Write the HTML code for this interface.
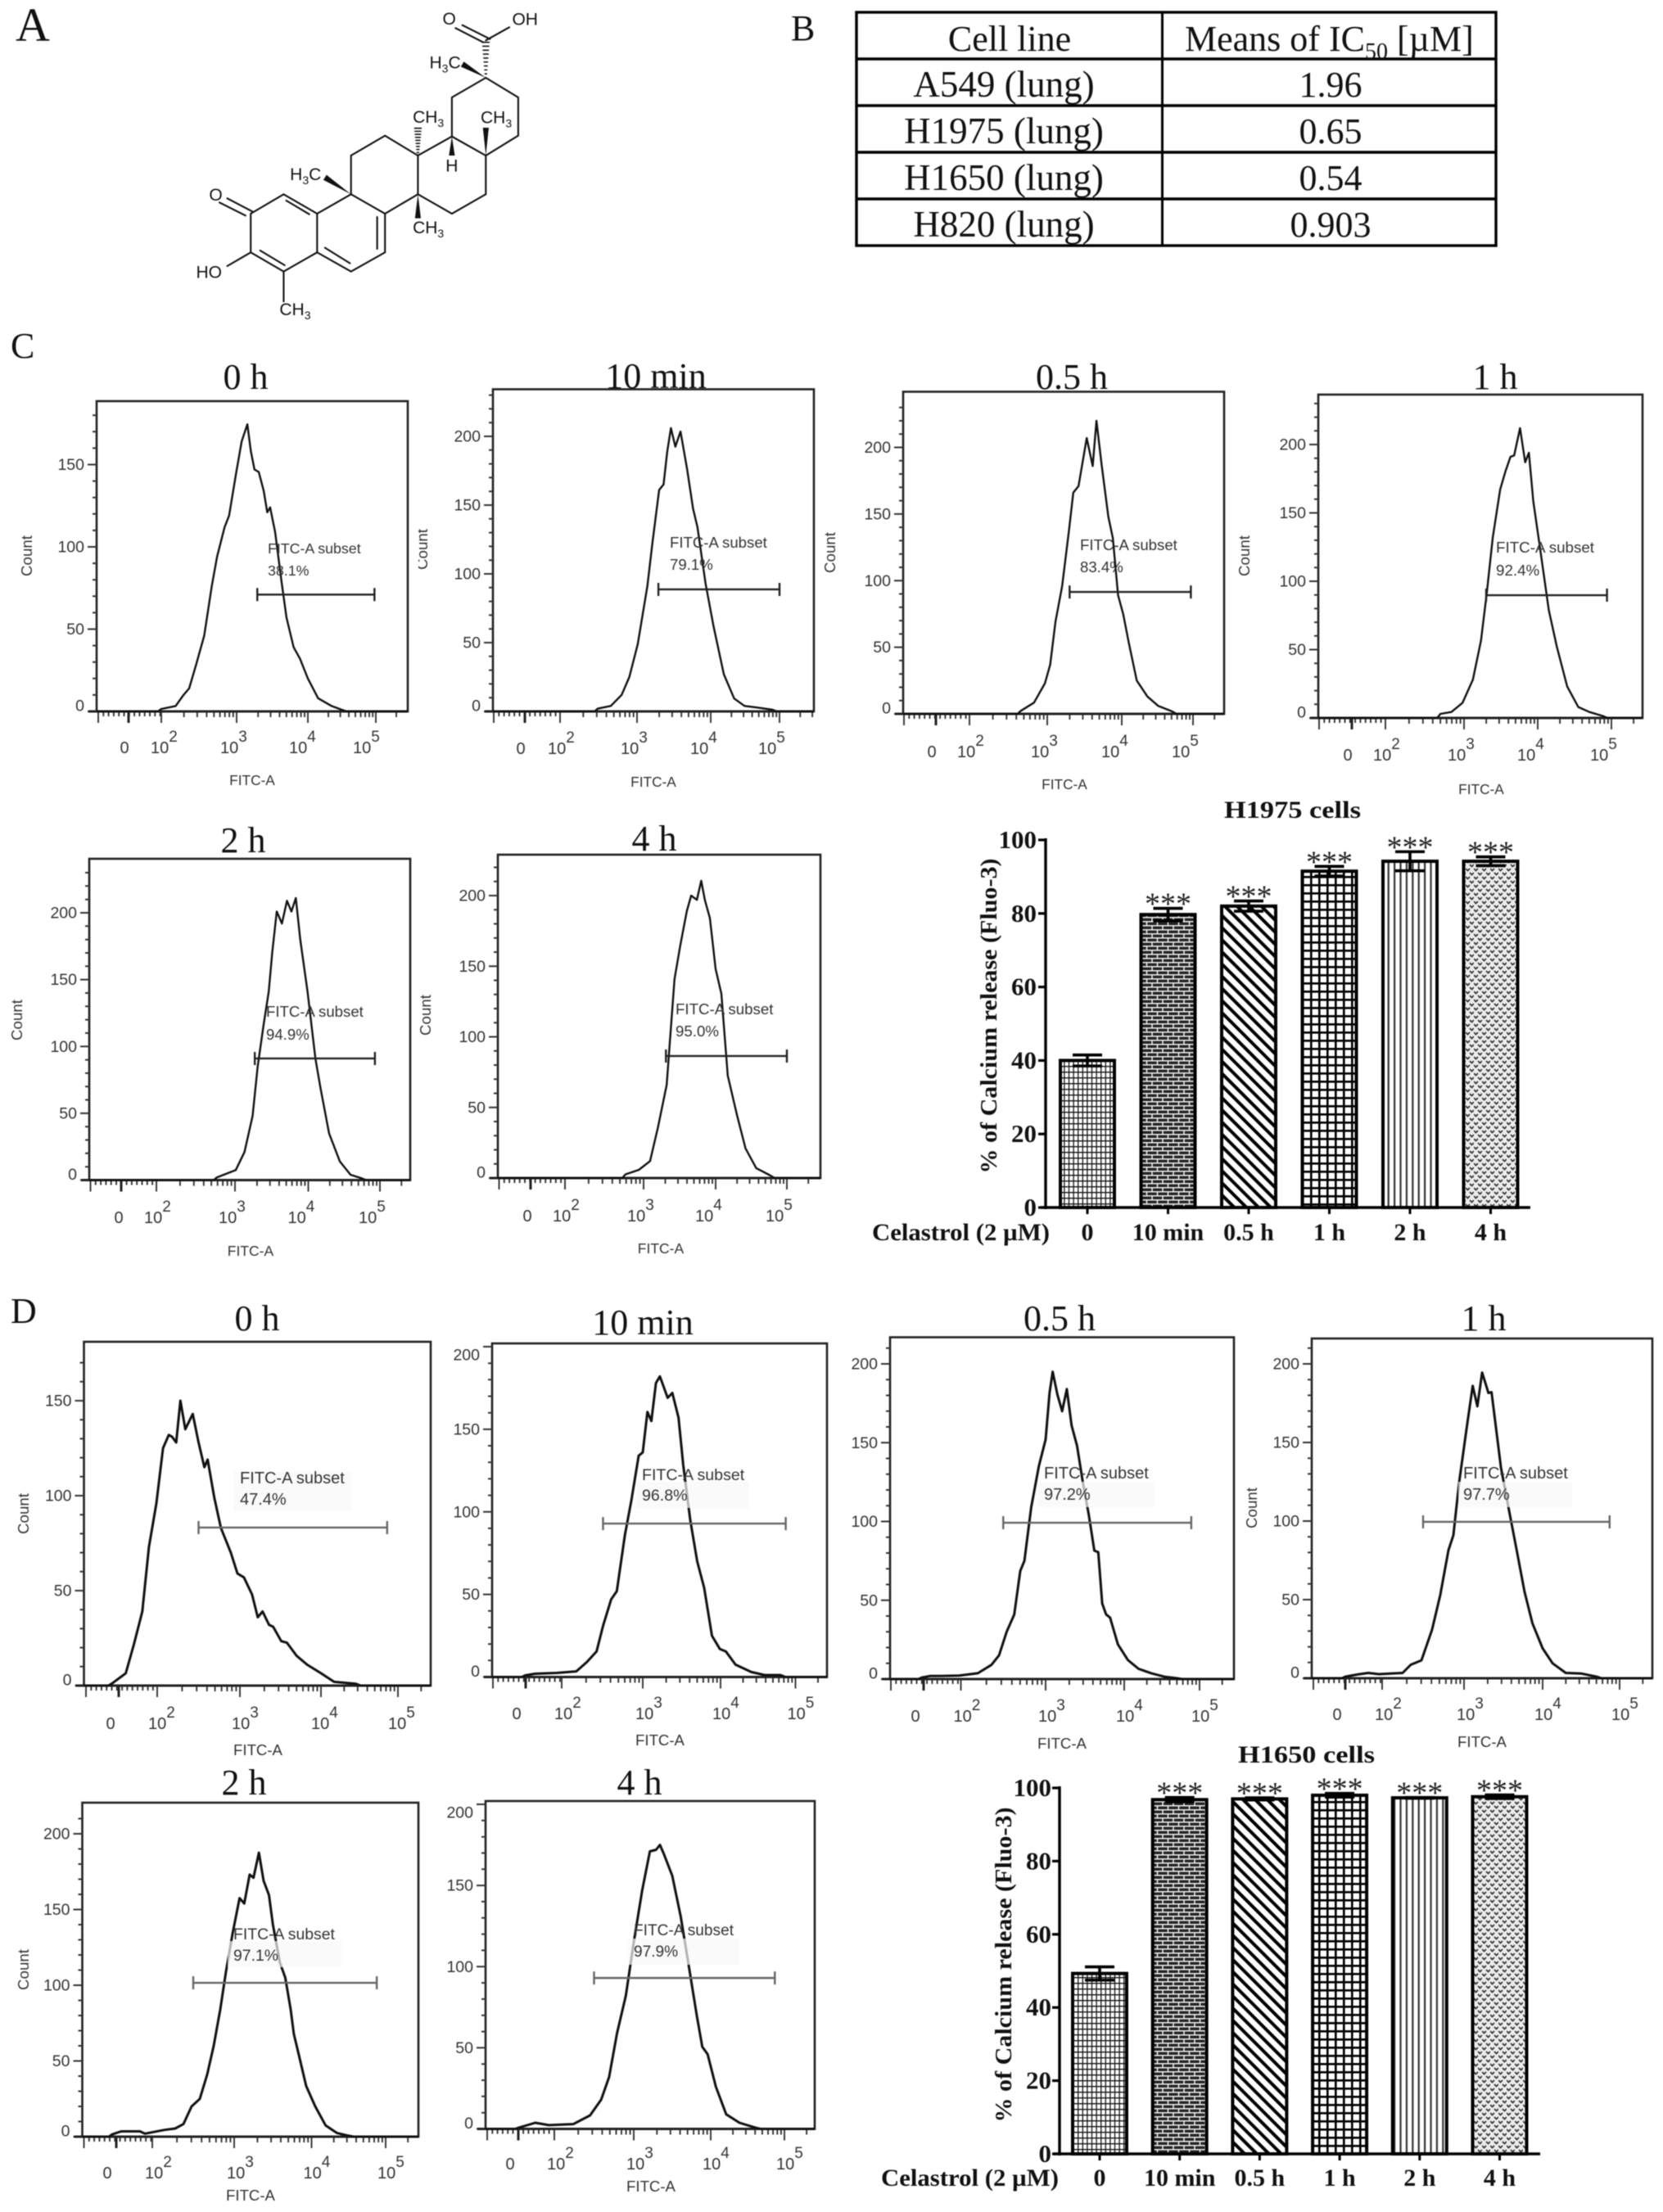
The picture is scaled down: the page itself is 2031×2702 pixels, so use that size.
<!DOCTYPE html>
<html lang="en">
<head>
<meta charset="utf-8">
<title>Celastrol calcium release figure</title>
<style>
html,body{margin:0;padding:0;background:#fff;width:2031px;height:2702px;overflow:hidden}
svg{display:block;filter:blur(.45px)}
</style>
</head>
<body>
<svg id="fig" xmlns="http://www.w3.org/2000/svg" width="2031" height="2702" viewBox="0 0 2031 2702">
<defs>
<pattern id="pat-fine" patternUnits="userSpaceOnUse" width="5.6" height="7"><rect width="5.6" height="7" fill="#fff"/><path d="M0 .7H5.6M.7 0V7" stroke="#111" stroke-width="1.3"/></pattern>
<pattern id="pat-brick" patternUnits="userSpaceOnUse" width="13" height="10"><rect width="13" height="10" fill="#262626"/><path d="M0 .8H13M0 5.8H13M3 .8V5.8M9.5 5.8V10" stroke="#fff" stroke-width="1.4"/></pattern>
<pattern id="pat-diag" patternUnits="userSpaceOnUse" width="10.5" height="10.5" patternTransform="rotate(-45)"><rect width="10.5" height="10.5" fill="#fff"/><rect width="4" height="10.5" fill="#000"/></pattern>
<pattern id="pat-grid" patternUnits="userSpaceOnUse" width="10" height="10"><rect width="10" height="10" fill="#fff"/><path d="M0 1.3H10M1.3 0V10" stroke="#000" stroke-width="2.6"/></pattern>
<pattern id="pat-vert" patternUnits="userSpaceOnUse" width="7.4" height="10"><rect width="7.4" height="10" fill="#fff"/><rect width="2.2" height="10" fill="#333"/></pattern>
<pattern id="pat-dots" patternUnits="userSpaceOnUse" width="10" height="10"><rect width="10" height="10" fill="#ececec"/><path d="M0 1L2.5 3.5L5 1M5 6L7.5 8.5L10 6" fill="none" stroke="#333" stroke-width="1.7"/></pattern>
</defs>
</svg>
<script>
// ---------- Flow histogram data: log10 FITC position and event count ----------
const c0hLog = [2,2.19,2.29,2.37,2.46,2.57,2.67,2.74,2.84,2.9,2.99,3.07,3.15,3.2,3.25,3.31,3.38,3.43,3.47,3.54,3.63,3.7,3.8,3.89,4,4.15,4.35,4.5];
const c0hCount = [1.5,3.3,9.7,14,28,46,76,94,112,119,144,164,174.5,158,147,145.5,134,121,124,109,79,57,39,32,20,8,3.3,1];
const c10mLog = [2.49,2.66,2.8,2.9,3.01,3.14,3.21,3.3,3.36,3.41,3.46,3.52,3.59,3.68,3.76,3.82,3.93,4.04,4.19,4.34,4.49,4.68,4.89];
const c10mCount = [2,4,12,25,49,91,123,161,165,189,206,192.5,203.5,176,147.5,134,93,62,27,9.4,4,2.8,1.3];
const c05hLog = [2.66,2.83,2.97,3.04,3.11,3.2,3.29,3.35,3.42,3.53,3.61,3.66,3.73,3.82,3.88,3.95,4.02,4.1,4.21,4.36,4.51,4.7];
const c05hCount = [2.3,8.4,23,37,69,96,137,166,171,207,186,220,187,148,132,89,75,53,25,13,6,2];
const c1hLog = [2.7,2.84,2.98,3.12,3.23,3.31,3.39,3.49,3.56,3.63,3.68,3.76,3.83,3.88,3.94,4.04,4.15,4.26,4.4,4.55,4.7,4.88];
const c1hCount = [3,4.4,11,28,56.5,92,132,167,180,191,192,212,187,194,158.5,121,79,52,23,8,4.4,1.5];
const c2hLog = [2.77,3.01,3.13,3.24,3.31,3.39,3.46,3.51,3.57,3.64,3.71,3.77,3.83,3.89,3.99,4.1,4.17,4.29,4.44,4.59,4.74];
const c2hCount = [2,7.5,21,48,85,116,141,171,201,192,209,201,211,180,141,91,69,35,14,4,1.4];
const c4hLog = [2.77,2.94,3.09,3.2,3.32,3.43,3.51,3.6,3.66,3.74,3.8,3.85,3.92,4,4.08,4.17,4.3,4.42,4.57,4.76];
const c4hCount = [2.6,5.8,12,36,66,141,165,189,200,197,210.5,197,184,148,130.5,72.5,44.5,21,7,2];
const d0hLog = [1.45,1.62,1.72,1.82,1.9,1.99,2.07,2.14,2.18,2.23,2.28,2.34,2.43,2.5,2.57,2.61,2.69,2.77,2.89,2.97,3.05,3.15,3.22,3.28,3.36,3.41,3.51,3.58,3.7,3.83,4,4.17,4.45];
const d0hCount = [1,6.5,22,39,73,96,125,132,131,128,150,135,143,128,115,119,99,83,70,59,57,48,36,39,32,31,23.4,22.6,15.7,11,6.5,2,1];
const d10mLog = [1.55,1.67,1.94,2.18,2.31,2.43,2.51,2.61,2.68,2.78,2.86,2.95,3,3.06,3.11,3.17,3.22,3.32,3.38,3.46,3.52,3.61,3.7,3.79,3.89,3.99,4.07,4.2,4.41,4.59,4.8];
const d10mCount = [1,2,2.5,3.4,9,15.5,31,47,52,86,107,134,136,160.5,155,178,182,169,172,157,128.5,95,70,54,25,17,15.5,7.5,3,1.2,1.2];
const d05hLog = [1.54,1.64,1.76,1.98,2.2,2.36,2.45,2.54,2.63,2.7,2.75,2.83,2.92,3,3.05,3.09,3.15,3.21,3.27,3.33,3.4,3.47,3.55,3.62,3.67,3.72,3.77,3.82,3.92,4.05,4.19,4.36,4.53,4.7];
const d05hCount = [1,2,2,2.2,3.7,9,15,30,41,68.5,75,109,135,152,181.5,195,180.5,170,184,161,148,126,104,81.5,80.5,48,41,39,22,12,6.5,3.7,1.5,.5];
const d1hLog = [1.55,1.7,1.83,1.96,2.25,2.35,2.48,2.61,2.71,2.81,2.87,2.94,3.03,3.11,3.17,3.23,3.31,3.35,3.47,3.57,3.67,3.77,3.87,4,4.13,4.3,4.5,4.7];
const d1hCount = [1,2.4,3.4,2.6,3.4,8.6,11.4,31,53,81.5,91,124.5,158,186,173,194.5,181.5,182,134,107.5,81.5,55,35,19,9.5,3.4,3,1];
const d2hLog = [1.51,1.62,1.85,1.91,2.15,2.28,2.38,2.48,2.58,2.67,2.75,2.83,2.9,2.98,3.07,3.13,3.2,3.25,3.32,3.38,3.45,3.5,3.59,3.66,3.73,3.77,3.84,3.93,4.05,4.19,4.34,4.5];
const d2hCount = [1.5,3.5,3.5,2,4.5,5.4,8.3,20,25,41,60,84,109,134,157.5,154,173,171,187.5,169,159.5,140,115,105,84,68,53,33.5,20,7.4,2.5,.6];
const d4hLog = [1.55,1.76,1.93,2.24,2.45,2.59,2.69,2.79,2.9,3,3.11,3.21,3.29,3.34,3.39,3.5,3.61,3.71,3.82,3.89,3.96,4.07,4.21,4.39,4.61];
const d4hCount = [.7,3.8,2.3,3,8.3,18,32,59,82,115,147,171,172,175,169.5,156,131,102,69.5,50.6,46,26,9,3.8,.7];

// ---------- Histogram tick labels ----------
const flowDecades = [2,3,4,5];
const yTicksC0 = [0,50,100,150];
const yTicksFull = [0,50,100,150,200];

// ---------- Bar chart data ----------
const barCategories = ['0','10 min','0.5 h','1 h','2 h','4 h'];
const barYTicks = [0,20,40,60,80,100];
const h1975Means = [40,79.7,82,91.5,94.2,94.2];
const h1975Errors = [1.5,1.7,1.4,1.3,2.6,1.2];
const h1650Means = [49.3,96.8,97,98,97.3,97.6];
const h1650Errors = [1.8,.6,.3,.5,.1,.5];

// ---------- Table data ----------
const tableCellLines = ['A549 (lung)','H1975 (lung)','H1650 (lung)','H820 (lung)'];
const tableIc50 = ['1.96','0.65','0.54','0.903'];

const svg = document.getElementById('fig');
const SERIF = '"Liberation Serif", serif';
const SANS = '"Liberation Sans", sans-serif';

function mk(tag, attrs, parent, text) {
  const n = document.createElementNS('http://www.w3.org/2000/svg', tag);
  for (const k in attrs) n.setAttribute(k, attrs[k]);
  if (text !== undefined) n.textContent = text;
  parent.appendChild(n);
  return n;
}

// ---------- Panel letters ----------
[['A',19,50,58],['B',966,49,44],['C',13,437,44],['D',13,1616,44]].forEach(function (p) {
  const t = mk('text', {x:p[1], y:p[2], 'font-family':SERIF, 'font-size':p[3], fill:'#111'}, svg, p[0]);
  
  
});

// ---------- Molecule (structure drawing) ----------
(function () {
  const SX = .638, SY = 1 / 3;
  const g = mk('g', {stroke:'#111','stroke-width':2.1,fill:'none','stroke-linecap':'round'}, svg);
  
  
  const rings = [
    [930,285,992,357,992,497,930,570,865,500,865,357,930,285],
    [930,570,930,712,865,783,800,712,800,570,865,500],
    [800,570,737,497,672,570,672,712,737,783,800,712],
    [737,783,737,925,672,995,607,925,607,783,672,712],
    [607,783,543,712,480,783,480,925,543,995,607,925]
  ];
  rings.forEach(function (r) {
    const pts = [];
    for (let i = 0; i < r.length; i += 2) pts.push((r[i]*SX).toFixed(1) + ',' + (r[i+1]*SY).toFixed(1));
    const pl = mk('polyline', {points:pts.join(' ')}, g);
    
    
  });
  const bonds = [
    [930,148,975,100],[925,155,872,103],[938,143,885,92],
    [548,735,592,785],[722,795,722,912],[622,908,670,965],[498,918,545,972],
    [470,790,420,742],[483,775,435,727],[480,925,435,975],[543,995,543,1105]
  ];
  bonds.forEach(function (b) {
    const l = mk('line', {x1:b[0]*SX, y1:b[1]*SY, x2:b[2]*SX, y2:b[3]*SY}, g);
    
    
  });
  const wedges = [[930,285,885,235],[930,570,930,468],[865,500,865,570],[672,712,622,650],[800,712,800,800]];
  wedges.forEach(function (w) {
    const dx = w[2]-w[0], dy = w[3]-w[1];
    const len = Math.hypot(dx*SX, dy*SY);
    const nx = -(dy*SY)/len*3.6, ny = (dx*SX)/len*3.6;
    const ax = w[0]*SX, ay = w[1]*SY, bx = w[2]*SX, by = w[3]*SY;
    const p = mk('polygon', {points:[ax,ay,bx+nx,by+ny,bx-nx,by-ny].join(' '), fill:'#111', stroke:'none'}, g);
    
    
  });
  const hashes = [[930,285,930,155],[800,570,800,470]];
  hashes.forEach(function (h) {
    const n = 9;
    for (let i = 1; i <= n; i++) {
      const f = i / n;
      const x = h[0]*SX, y = (h[1] + (h[3]-h[1])*f)*SY, hw = .6 + f*3.4;
      const l = mk('line', {x1:x-hw, y1:y, x2:x+hw, y2:y, 'stroke-width':1.6}, g);
      
      
    }
  });
  const atoms = [
    ['O','',860,90],['OH','',1005,92],['H','3C',852,250],['CH','3',820,450],['CH','3',950,452],
    ['H','',865,628],['H','3C',585,660],['O','',413,735],['CH','3',820,855],['HO','',400,1018],['CH','3',565,1155]
  ];
  atoms.forEach(function (a) {
    const t = mk('text', {x:a[2]*SX, y:a[3]*SY, 'text-anchor':'middle','font-family':SANS,'font-size':21,fill:'#111',stroke:'none'}, g, a[0]);
    
    
    if (a[1]) {
      const s = a[1].charAt(0), rest = a[1].slice(1);
      const sub = mk('tspan', {'font-size':14, dy:5}, t, s);
      
      
      if (rest) {
        const r = mk('tspan', {dy:-5}, t, rest);
        
        
      }
    }
  });
})();

// ---------- Table B ----------
(function () {
  const g = mk('g', {}, svg);
  
  
  const frame = mk('rect', {x:1046, y:15, width:781, height:285, fill:'#fff', stroke:'#000', 'stroke-width':3.4}, g);
  
  
  [72,129,186,243].forEach(function (y) {
    const l = mk('line', {x1:1046, x2:1827, y1:y, y2:y, stroke:'#000', 'stroke-width':3.4}, g);
    
    
  });
  const div = mk('line', {x1:1419.5, x2:1419.5, y1:15, y2:300, stroke:'#000', 'stroke-width':3}, g);
  
  
  const h1 = mk('text', {x:1233, y:62, 'text-anchor':'middle','font-family':SERIF,'font-size':44, fill:'#111'}, g, 'Cell line');
  
  
  const h2 = mk('text', {x:1447, y:62, 'font-family':SERIF,'font-size':44, fill:'#111'}, g, 'Means of IC');
  
  
  const h2s = mk('tspan', {'font-size':28, dy:10}, h2, '50');
  
  
  const h2e = mk('tspan', {dy:-10}, h2, ' [µM]');
  
  
  const bases = [118,175,232,289];
  tableCellLines.forEach(function (name, i) {
    const t = mk('text', {x:1226, y:bases[i], 'text-anchor':'middle','font-family':SERIF,'font-size':45, fill:'#111'}, g, name);
    
    
    const v = mk('text', {x:1625, y:bases[i], 'text-anchor':'middle','font-family':SERIF,'font-size':44, fill:'#111'}, g, tableIc50[i]);
    
    
  });
})();

// ---------- Flow histogram panels ----------
const flowLayouts = [
  {id:'c-0h',title:'0 h',titleXY:[300,475],frame:[118,498,490],y0:869,perCount:2.01,xT:[197,289,376,459],start:120,zero:157,labelBase:920,zeroX:152,offs:[-13,-20,-23,-28],fitc:[308,959],count:[32,679],lbl:[327,676,703],lblSize:17.8,fitcSize:17.3,pct:'38.1%',log:c0hLog,cnt:c0hCount,gate:[3.29,4.98,71],yT:yTicksC0,lw:2.4,top:180},
  {id:'c-10min',title:'10 min',titleXY:[801,474],frame:[602,994,475.5],y0:869,perCount:1.68,xT:[684,778,868,952],start:603,zero:641,labelBase:921,zeroX:636,offs:[-15,-20,-25,-26],fitc:[798,961],count:[515,671],clipCount:511,lbl:[818,669,696],lblSize:18.6,fitcSize:17.3,pct:'79.1%',log:c10mLog,cnt:c10mCount,gate:[3.29,5,88.7],yT:yTicksFull,lw:2.4,top:230},
  {id:'c-05h',title:'0.5 h',titleXY:[1309,475],frame:[1103,1495,478.5],y0:872,perCount:1.6275,xT:[1184,1279,1370,1457],start:1104,zero:1143,labelBase:925,zeroX:1138,offs:[-15,-20,-25,-26],fitc:[1300,964],count:[1013,675],lbl:[1319,672,699],lblSize:18.6,fitcSize:17.3,pct:'83.4%',log:c05hLog,cnt:c05hCount,gate:[3.3,4.97,91.5],yT:yTicksFull,lw:2.4,top:235},
  {id:'c-1h',title:'1 h',titleXY:[1826,475],frame:[1610,2006,482],y0:877,perCount:1.67,xT:[1692,1788,1878,1968],start:1611,zero:1651,labelBase:929,zeroX:1646,offs:[-15,-20,-25,-26],fitc:[1809,970],count:[1519,679],lbl:[1827,675,703],lblSize:18.8,fitcSize:17.3,pct:'92.4%',log:c1hLog,cnt:c1hCount,gate:[3.3,4.94,89.8],yT:yTicksFull,lw:2.4,top:230},
  {id:'c-2h',title:'2 h',titleXY:[297,1041],frame:[109,501,1049],y0:1441.5,perCount:1.6325,xT:[191,287,376.5,464],start:110.5,zero:148,labelBase:1494,zeroX:145,offs:[-15,-20,-25,-26],fitc:[306,1534],count:[20,1246],lbl:[325,1242,1270],lblSize:18.6,fitcSize:17.5,pct:'94.9%',log:c2hLog,cnt:c2hCount,gate:[3.27,4.93,91],yT:yTicksFull,lw:2.4,top:230},
  {id:'c-4h',title:'4 h',titleXY:[799,1039],frame:[608,1002,1044],y0:1439,perCount:1.725,xT:[690,786,874,961],start:609.5,zero:648,labelBase:1492,zeroX:644,offs:[-15,-20,-25,-26],fitc:[807,1531],count:[519,1240],lbl:[825,1239,1266],lblSize:18.7,fitcSize:17.5,pct:'95.0%',log:c4hLog,cnt:c4hCount,gate:[3.31,5,86.4],yT:yTicksFull,lw:2.4,top:220},
  {id:'d-0h',title:'0 h',titleXY:[314,1625],frame:[102.5,526,1639],y0:2059,perCount:2.32,xT:[192,293,392,486],start:105,zero:145,labelBase:2112,zeroX:135,offs:[-11,-10,-12,-12],fitc:[315,2144],count:[28,1849],lbl:[293,1812,1838],lblSize:20,fitcSize:18.6,box:[285,1798,144,48],pct:'47.4%',log:d0hLog,cnt:d0hCount,gate:[2.5,4.86,83.2],yT:yTicksC0,lw:3,top:170},
  {id:'d-10min',title:'10 min',titleXY:[785,1630],frame:[601,1010,1641],y0:2048.5,perCount:2.0175,xT:[686,785,880,971.5],start:602,zero:642,labelBase:2100,zeroX:631,offs:[-9,-9,-10,-10],fitc:[806,2132],lbl:[784,1808,1833],lblSize:19.6,fitcSize:18.6,box:[777,1810,138,32],pct:'96.8%',log:d10mLog,cnt:d10mCount,gate:[2.51,4.87,92.9],yT:yTicksFull,lw:3,top:200,topDy:10},
  {id:'d-05h',title:'0.5 h',titleXY:[1294,1625],frame:[1087,1507,1633.5],y0:2051,perCount:1.925,xT:[1173.5,1277,1373,1465],start:1088,zero:1128,labelBase:2103,zeroX:1118,offs:[-9,-9,-10,-10],fitc:[1297,2136],lbl:[1275,1806,1832],lblSize:20,fitcSize:18.6,box:[1268,1810,142,31],pct:'97.2%',log:d05hLog,cnt:d05hCount,gate:[2.5,4.89,99.2],yT:yTicksFull,lw:3,top:210},
  {id:'d-1h',title:'1 h',titleXY:[1812,1625],frame:[1602,2018,1635],y0:2050,perCount:1.92,xT:[1688,1788,1884,1978],start:1604,zero:1643,labelBase:2101,zeroX:1633,offs:[-9,-9,-10,-10],fitc:[1810,2134],count:[1528,1842],lbl:[1787,1806,1832],lblSize:20,fitcSize:18.6,box:[1781,1810,139,31],pct:'97.7%',log:d1hLog,cnt:d1hCount,gate:[2.5,4.87,99.5],yT:yTicksFull,lw:3,top:210},
  {id:'d-2h',title:'2 h',titleXY:[298,2192],frame:[100.5,511,2202],y0:2610,perCount:1.85,xT:[186,286,380.5,471],start:102.5,zero:142,labelBase:2661,zeroX:131,offs:[-9,-9,-10,-10],fitc:[306,2688],count:[28,2406],lbl:[285,2369,2395],lblSize:19.4,fitcSize:18.6,box:[278,2371,139,32],pct:'97.1%',log:d2hLog,cnt:d2hCount,gate:[2.5,4.88,101.6],yT:yTicksFull,lw:3,top:210},
  {id:'d-4h',title:'4 h',titleXY:[781,2192],frame:[593,995,2200],y0:2600.5,perCount:1.9825,xT:[677,774,868,958],start:595,zero:633,labelBase:2650,zeroX:623,offs:[-9,-9,-10,-10],fitc:[795,2677],lbl:[774,2364,2390],lblSize:19.1,fitcSize:18.6,box:[767,2368,136,32],pct:'97.9%',log:d4hLog,cnt:d4hCount,gate:[2.5,4.87,93],yT:yTicksFull,lw:3,top:200,topDy:10}
];

function makeXScale(t) {
  return function (v) {
    const seg = Math.max(0, Math.min(t.length - 2, Math.floor(v - 2)));
    return t[seg] + (v - 2 - seg) * (t[seg+1] - t[seg]);
  };
}

flowLayouts.forEach(function (p) {
  const x = makeXScale(p.xT);
  const y = function (c) { return p.y0 - c * p.perCount; };
  const L = p.frame[0], R = p.frame[1], T = p.frame[2];
  const g = mk('g', {}, svg);
  
  

  const title = mk('text', {x:p.titleXY[0], y:p.titleXY[1], 'text-anchor':'middle','font-family':SERIF,'font-size':44, fill:'#111'}, g, p.title);
  
  

  const frame = mk('rect', {x:L, y:T, width:R-L, height:p.y0-T, fill:'#fff', stroke:'#222','stroke-width':2.6}, g);
  
  

  // y axis
  let dy = '';
  for (let c = 0; c <= p.top; c += 10) {
    const big = c % 50 === 0;
    dy += 'M' + L + ' ' + y(c).toFixed(1) + 'h' + (big ? -11 : -5);
  }
  const yAxis = mk('path', {d:dy, stroke:'#333','stroke-width':2, fill:'none'}, g);
  
  
  p.yT.forEach(function (v) {
    let off = (v === 200 && p.topDy) ? p.topDy : 0;
    if (v === 0) off = -7;
    const t = mk('text', {x:L-15, y:y(v)+6.5+off, 'text-anchor':'end','font-family':SANS,'font-size':19.5, fill:'#333'}, g, String(v));
    
    
  });

  // x axis
  let dx = '';
  for (let px = p.start; px < p.xT[0]; px += 6.3) {
    dx += 'M' + px.toFixed(1) + ' ' + p.y0 + 'v6';
  }
  for (let d = 2; d <= 5; d++) {
    for (let m = 2; m <= 9; m++) {
      const px = x(d + Math.log10(m));
      if (px < R) dx += 'M' + px.toFixed(1) + ' ' + p.y0 + 'v7';
    }
  }
  [p.start, p.xT[0], p.xT[1], p.xT[2], p.xT[3]].forEach(function (px) {
    dx += 'M' + px + ' ' + p.y0 + 'v14';
  });
  const xAxis = mk('path', {d:dx, stroke:'#333','stroke-width':1.9, fill:'none'}, g);
  
  
  const spike = mk('line', {x1:p.zero, x2:p.zero, y1:p.y0, y2:p.y0+14, stroke:'#222','stroke-width':3}, g);
  
  
  const base = mk('line', {x1:L-10, x2:R, y1:p.y0, y2:p.y0, stroke:'#222','stroke-width':3}, g);
  
  

  const z = mk('text', {x:p.zeroX, y:p.labelBase, 'text-anchor':'middle','font-family':SANS,'font-size':20, fill:'#333'}, g, '0');
  
  
  flowDecades.forEach(function (d, i) {
    const t = mk('text', {x:x(d)+p.offs[i], y:p.labelBase,'font-family':SANS,'font-size':20, fill:'#333'}, g, '10');
    
    
    const s = mk('tspan', {dy:-14,'font-size':19}, t, String(d));
    
    
  });

  const fitc = mk('text', {x:p.fitc[0], y:p.fitc[1], 'text-anchor':'middle','font-family':SANS,'font-size':p.fitcSize, fill:'#333'}, g, 'FITC-A');
  
  

  if (p.count) {
    let holder = g;
    if (p.clipCount) {
      const cp = mk('clipPath', {id:'clip-' + p.id}, g);
      
      
      const cr = mk('rect', {x:p.clipCount, y:p.count[1]-60, width:60, height:120}, cp);
      
      
      holder = mk('g', {'clip-path':'url(#clip-' + p.id + ')'}, g);
      
      
    }
    const cnt = mk('text', {x:0, y:0, 'text-anchor':'middle','font-family':SANS,'font-size':18.7, fill:'#333', transform:'translate(' + (p.count[0]+7) + ' ' + p.count[1] + ') rotate(-90)'}, holder, 'Count');
    
    
  }

  // histogram trace: flat on the baseline outside the measured range
  const firstX = x(p.log[0]), lastX = x(p.log[p.log.length - 1]);
  let pts = L + ',' + p.y0 + ' ' + (firstX - 4).toFixed(1) + ',' + p.y0 + ' ';
  p.log.forEach(function (v, i) {
    pts += x(v).toFixed(1) + ',' + y(p.cnt[i]).toFixed(1) + ' ';
  });
  pts += (lastX + 6).toFixed(1) + ',' + p.y0 + ' ' + R + ',' + p.y0;
  const line = mk('polyline', {points:pts, fill:'none', stroke:'#111','stroke-width':p.lw,'stroke-linejoin':'round'}, g);
  
  

  if (p.box) {
    const b = mk('rect', {x:p.box[0], y:p.box[1], width:p.box[2], height:p.box[3], fill:'#f8f8f8', opacity:.7}, g);
    
    
  }

  // gate
  const gy = y(p.gate[2]), gx1 = x(p.gate[0]), gx2 = x(p.gate[1]);
  const gate = mk('path', {d:'M' + gx1 + ' ' + (gy-8) + 'v16M' + gx2 + ' ' + (gy-8) + 'v16M' + gx1 + ' ' + gy + 'H' + gx2, stroke: p.box ? '#666' : '#222', 'stroke-width':2.4, fill:'none'}, g);
  
  

  const l1 = mk('text', {x:p.lbl[0], y:p.lbl[1],'font-family':SANS,'font-size':p.lblSize, fill:'#333'}, g, 'FITC-A subset');
  
  
  const l2 = mk('text', {x:p.lbl[0], y:p.lbl[2],'font-family':SANS,'font-size':p.lblSize, fill:'#333'}, g, p.pct);
  
  
});

// ---------- Bar charts ----------
const barPatterns = ['pat-fine','pat-brick','pat-diag','pat-grid','pat-vert','pat-dots'];
const barLayouts = [
  {id:'h1975',title:'H1975 cells',titleXY:[1578.5,999],axisX:1277,y0:1475,y100:1026,x0:1328,step:98.5,lineEnd:1869,lineStart:1271,means:h1975Means,errs:h1975Errors,stars:[1,2,3,4,5],yTitleXY:[1217,1241],labelRight:1266,labelBase:1515,celastrol:[1065,1515],tickEnd:1483},
  {id:'h1650',title:'H1650 cells',titleXY:[1595.5,2153],axisX:1294,y0:2631,y100:2184,x0:1343,step:97.7,lineEnd:1881,lineStart:1286.5,means:h1650Means,errs:h1650Errors,stars:[1,2,3,4,5],yTitleXY:[1235,2400],labelRight:1284,labelBase:2670,celastrol:[1076,2670],tickEnd:2639}
];

barLayouts.forEach(function (c) {
  const y = function (v) { return c.y0 - v * (c.y0 - c.y100) / 100; };
  const x = function (i) { return c.x0 + i * c.step; };
  const g = mk('g', {}, svg);
  
  

  const tt = mk('text', {x:c.titleXY[0], y:c.titleXY[1], 'text-anchor':'middle','font-family':SERIF,'font-weight':'bold','font-size':30, textLength:167, lengthAdjust:'spacingAndGlyphs', fill:'#111'}, g, c.title);
  
  

  const yt = mk('text', {x:0, y:0, 'text-anchor':'middle','font-family':SERIF,'font-weight':'bold','font-size':29, textLength:385, lengthAdjust:'spacingAndGlyphs', fill:'#111', transform:'translate(' + c.yTitleXY[0] + ' ' + c.yTitleXY[1] + ') rotate(-90)'}, g, '% of Calcium release (Fluo-3)');
  
  

  c.means.forEach(function (v, i) {
    const bar = mk('rect', {x:x(i)-33, y:y(v), width:66, height:c.y0-y(v), fill:'url(#' + barPatterns[i] + ')', stroke:'#000','stroke-width':4}, g);
    
    
    const e = c.errs[i];
    const err = mk('path', {d:'M' + x(i) + ' ' + y(v+e) + 'V' + y(v-e) + 'M' + (x(i)-18) + ' ' + y(v+e) + 'h36M' + (x(i)-18) + ' ' + y(v-e) + 'h36', stroke:'#000','stroke-width':3.6, fill:'none'}, g);
    
    
    if (c.stars.indexOf(i) >= 0) {
      const st = mk('text', {x:x(i), y:y(v+e)+7, 'text-anchor':'middle','font-family':SERIF,'font-size':38, fill:'#222'}, g, '***');
      
      
    }
    const tick = mk('line', {x1:x(i), x2:x(i), y1:c.y0, y2:c.tickEnd, stroke:'#000','stroke-width':3}, g);
    
    
    const lab = mk('text', {x:x(i), y:c.labelBase, 'text-anchor':'middle','font-family':SERIF,'font-weight':'bold','font-size':30, fill:'#111'}, g, barCategories[i]);
    
    
  });

  const axY = mk('line', {x1:c.axisX, x2:c.axisX, y1:y(100)-2, y2:c.y0+2, stroke:'#000','stroke-width':3.4}, g);
  
  
  const axX = mk('line', {x1:c.lineStart, x2:c.lineEnd, y1:c.y0, y2:c.y0, stroke:'#000','stroke-width':3.4}, g);
  
  
  barYTicks.forEach(function (v) {
    const tk = mk('line', {x1:c.axisX-9, x2:c.axisX, y1:y(v), y2:y(v), stroke:'#000','stroke-width':3.2}, g);
    
    
    const lb = mk('text', {x:c.labelRight, y:y(v)+10, 'text-anchor':'end','font-family':SERIF,'font-weight':'bold','font-size':31, fill:'#111'}, g, String(v));
    
    
  });

  const cel = mk('text', {x:c.celastrol[0], y:c.celastrol[1],'font-family':SERIF,'font-weight':'bold','font-size':30, textLength:217, lengthAdjust:'spacingAndGlyphs', fill:'#111'}, g, 'Celastrol (2 µM)');
  
  
});
</script>
</body>
</html>
